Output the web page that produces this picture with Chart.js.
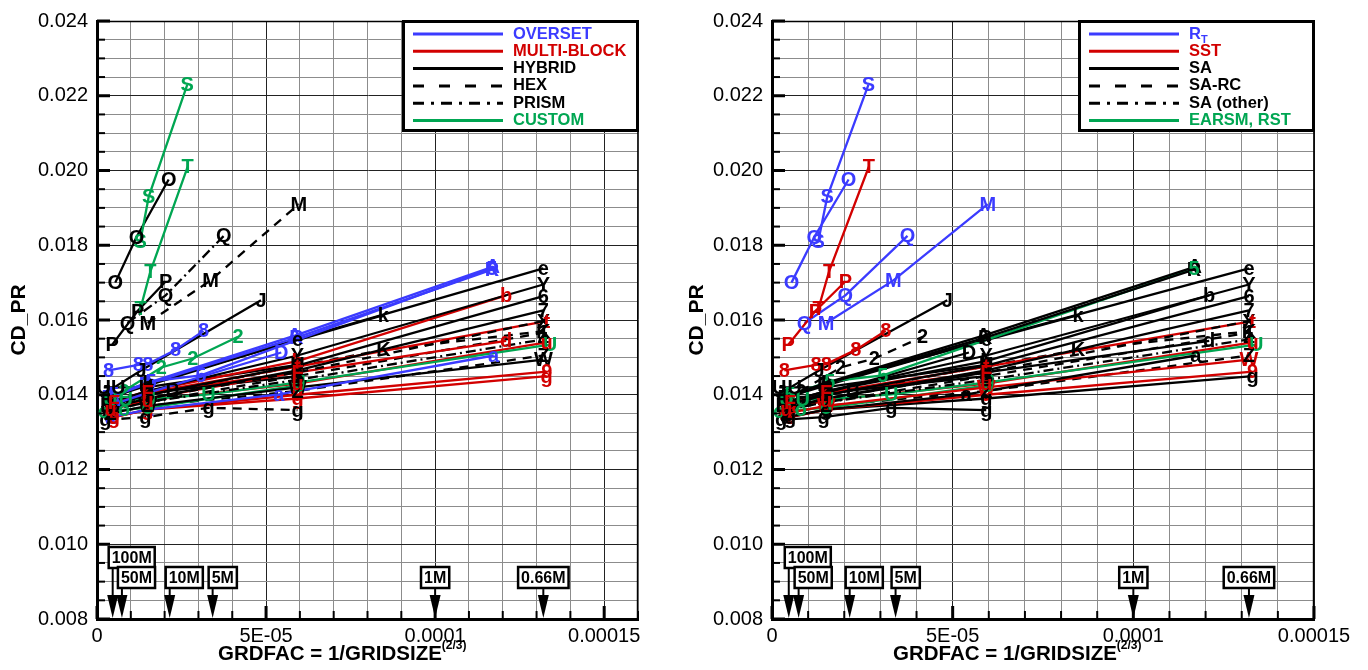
<!DOCTYPE html>
<html><head><meta charset="utf-8">
<script src="https://cdn.jsdelivr.net/npm/chart.js@4/dist/chart.umd.min.js"></script>
<style>
html,body{margin:0;padding:0;background:#fff;width:1368px;height:670px;overflow:hidden;font-family:"Liberation Sans",Arial,sans-serif;}
.wrap{position:absolute;top:0;width:684px;height:670px;}
.wrap canvas{position:absolute;left:0;top:0;}
.xt{position:absolute;font-weight:bold;font-size:20.5px;white-space:nowrap;top:641px;color:#000;}
.xt sup{font-size:12px;vertical-align:top;position:relative;top:-3px;}
</style></head>
<body>
<div class="wrap" style="left:0"><canvas id="c1" width="684" height="670"></canvas><div class="xt" style="left:218px">GRDFAC = 1/GRIDSIZE<sup>(2/3)</sup></div></div>
<div class="wrap" style="left:684px"><canvas id="c2" width="684" height="670"></canvas><div class="xt" style="left:209px">GRDFAC = 1/GRIDSIZE<sup>(2/3)</sup></div></div>
<script>
// ---------------- DATA ----------------
const GRID_TYPES = ['OVERSET','MULTI-BLOCK','HYBRID','HEX','PRISM','CUSTOM'];
const TURB_MODELS = ['R_T','SST','SA','SA-RC','SA (other)','EARSM, RST'];
const X_TICK_VALUES = [0, 5e-5, 1e-4, 1.5e-4];
const X_TICK_TEXT = ['0','5E-05','0.0001','0.00015'];
const GRID_SIZE_LABELS = ['100M','50M','10M','5M','1M','0.66M'];
const GRID_SIZE_X = [4.64e-6, 7.37e-6, 2.15e-5, 3.42e-5, 1.0e-4, 1.32e-4];

const SERIES_MARK = ['S','T','O','P','Q','M','8','2','J','R','A','5','D','a','e','Y','b','6','7','X','t','d','1','4','W','9','g','g','k','K','U','o','U','B','Z','u','F'];
const SERIES_GRID = ['CUSTOM','CUSTOM','HYBRID','HYBRID','PRISM','HEX','OVERSET','CUSTOM','HYBRID','OVERSET','OVERSET','OVERSET','OVERSET','OVERSET','HYBRID','HYBRID','MULTI-BLOCK','HYBRID','HYBRID','HEX','MULTI-BLOCK','MULTI-BLOCK','HEX','PRISM','HYBRID','MULTI-BLOCK','MULTI-BLOCK','HEX','HYBRID','HEX','CUSTOM','CUSTOM','HYBRID','HYBRID','HEX','MULTI-BLOCK','MULTI-BLOCK'];
const SERIES_MODEL = ['R_T','SST','R_T','SST','R_T','R_T','SST','SA-RC','SA','SA','SA','EARSM, RST','SA','SA','SA','SA','SA','SA','SA','SA-RC','SST','SA','SA-RC','SA (other)','SST','SST','SA','SA','SA','SA-RC','EARSM, RST','EARSM, RST','SA','SA','SA-RC','SST','SST'];
const SERIES_X = [
 [1.28e-5,1.53e-5,2.67e-5],
 [1.29e-5,1.58e-5,2.68e-5],
 [0.54e-5,1.17e-5,2.12e-5],
 [0.45e-5,1.2e-5,2.03e-5],
 [0.9e-5,2.03e-5,3.75e-5],
 [1.5e-5,3.36e-5,5.97e-5],
 [0.34e-5,1.22e-5,1.5e-5,2.32e-5,3.15e-5],
 [0.8e-5,1.9e-5,2.83e-5,4.17e-5],
 [0.25e-5,1.3e-5,4.85e-5],
 [0.35e-5,1.45e-5,5.9e-5,11.68e-5],
 [0.45e-5,1.5e-5,5.85e-5,11.7e-5],
 [0.5e-5,1.6e-5,3.07e-5,11.68e-5],
 [0.5e-5,1.5e-5,5.45e-5],
 [0.4e-5,1.5e-5,5.38e-5,11.73e-5],
 [0.3e-5,1.5e-5,5.93e-5,13.2e-5],
 [0.4e-5,1.5e-5,5.93e-5,13.2e-5],
 [0.4e-5,1.5e-5,5.93e-5,12.1e-5],
 [0.4e-5,1.5e-5,5.93e-5,13.2e-5],
 [0.4e-5,1.5e-5,5.93e-5,13.2e-5],
 [0.4e-5,1.5e-5,5.93e-5,13.2e-5],
 [0.5e-5,1.5e-5,5.93e-5,13.3e-5],
 [0.4e-5,1.5e-5,5.93e-5,12.1e-5],
 [0.4e-5,1.5e-5,5.93e-5,13.2e-5],
 [0.4e-5,1.5e-5,5.93e-5,13.2e-5],
 [0.4e-5,1.5e-5,5.93e-5,13.2e-5],
 [0.5e-5,1.5e-5,5.93e-5,13.3e-5],
 [0.5e-5,1.5e-5,5.93e-5,13.3e-5],
 [0.25e-5,1.43e-5,3.3e-5,5.93e-5],
 [0.4e-5,1.5e-5,8.47e-5],
 [0.4e-5,1.5e-5,8.47e-5,13.2e-5],
 [0.4e-5,0.85e-5,1.53e-5,3.3e-5,5.96e-5,13.4e-5],
 [0.2e-5,0.8e-5,1.5e-5,5.96e-5],
 [0.2e-5,0.63e-5,1.45e-5,5.93e-5],
 [0.3e-5,1.5e-5,2.24e-5,5.93e-5],
 [0.4e-5,1.5e-5,5.93e-5,13.2e-5],
 [0.4e-5,1.5e-5,5.93e-5,13.3e-5],
 [0.5e-5,1.5e-5,5.93e-5]
];
const SERIES_Y = [
 [0.0181,0.0193,0.0223],
 [0.01632,0.0173,0.0201],
 [0.0170,0.01822,0.01976],
 [0.01534,0.01624,0.01703],
 [0.01592,0.01666,0.01825],
 [0.01592,0.01706,0.0191],
 [0.01465,0.0148,0.01482,0.0152,0.01571],
 [0.0141,0.01473,0.01497,0.01555],
 [0.01405,0.01465,0.01653],
 [0.01392,0.01428,0.01553,0.01735],
 [0.01398,0.01432,0.01558,0.01742],
 [0.0140,0.01436,0.01452,0.01738],
 [0.01375,0.01405,0.01513],
 [0.0134,0.0136,0.01401,0.01505],
 [0.0139,0.01425,0.01548,0.01738],
 [0.0138,0.0141,0.01505,0.01695],
 [0.0138,0.0141,0.0149,0.01666],
 [0.0137,0.0140,0.01478,0.01664],
 [0.01365,0.0139,0.01465,0.01626],
 [0.0137,0.0139,0.0146,0.01597],
 [0.0138,0.01405,0.01475,0.01597],
 [0.0136,0.0139,0.0146,0.01544],
 [0.0136,0.0138,0.0145,0.01566],
 [0.0136,0.0138,0.0144,0.01548],
 [0.0135,0.0137,0.0142,0.01494],
 [0.0134,0.0136,0.0140,0.01462],
 [0.0134,0.0136,0.0139,0.0145],
 [0.01333,0.0134,0.01365,0.01359],
 [0.0139,0.0143,0.01613],
 [0.0137,0.0140,0.0152,0.0157],
 [0.01388,0.01388,0.01388,0.01401,0.01433,0.01534],
 [0.01355,0.0136,0.01365,0.01425],
 [0.0142,0.0142,0.0142,0.0148],
 [0.0137,0.0140,0.01412,0.0145],
 [0.0135,0.0137,0.0141,0.01505],
 [0.0136,0.01385,0.0143,0.0154],
 [0.0138,0.01405,0.0146]
];

// ---------------- STYLE ----------------
const BLUE='#3b3bff', RED='#d20000', BLACK='#000000', GREEN='#00a652';
const DASH=[9,7], DASHDOT=[10,4,2,4];
const GRID_STYLE = {'OVERSET':{c:BLUE,d:[]},'MULTI-BLOCK':{c:RED,d:[]},'HYBRID':{c:BLACK,d:[]},'HEX':{c:BLACK,d:DASH},'PRISM':{c:BLACK,d:DASHDOT},'CUSTOM':{c:GREEN,d:[]}};
const MODEL_STYLE = {'R_T':{c:BLUE,d:[]},'SST':{c:RED,d:[]},'SA':{c:BLACK,d:[]},'SA-RC':{c:BLACK,d:DASH},'SA (other)':{c:BLACK,d:DASHDOT},'EARSM, RST':{c:GREEN,d:[]}};
const ARROW_LEVEL = [1,0,0,0,0,0];
const ARROW_ALIGN = ['left','left','left','left','center','center'];
const FONT = '"Liberation Sans", Arial, sans-serif';

function isMult(v, step){ const r = v/step; return Math.abs(r-Math.round(r))<1e-6; }

function buildDatasets(catArr, styleMap){
  return SERIES_MARK.map((m,i)=>{
    const st = styleMap[catArr[i]];
    return {
      label: m,
      mark: m,
      data: SERIES_X[i].map((x,j)=>({x:x, y:SERIES_Y[i][j]})),
      borderColor: st.c, backgroundColor: st.c,
      borderDash: st.d, borderWidth: 2.3,
      pointRadius: 0, pointHoverRadius: 0,
      showLine: true, fill: false, tension: 0
    };
  });
}

const markerPlugin = {
  id:'markers',
  afterDatasetsDraw(chart){
    const ctx = chart.ctx;
    ctx.save();
    ctx.font = 'bold 20px '+FONT;
    ctx.textAlign='center'; ctx.textBaseline='middle';
    chart.data.datasets.forEach((ds,i)=>{
      const meta = chart.getDatasetMeta(i);
      ctx.fillStyle = ds.borderColor;
      meta.data.forEach(el=>{ ctx.fillText(ds.mark, el.x, el.y+1); });
    });
    ctx.restore();
  }
};

const decoPlugin = {
  id:'deco',
  afterDraw(chart, args, opts){
    const ctx = chart.ctx, a = chart.chartArea;
    const xs = chart.scales.x, ys = chart.scales.y;
    ctx.save();
    ctx.strokeStyle='#000'; ctx.lineWidth=1.5;
    ctx.beginPath(); ctx.moveTo(a.left,a.top+0.5); ctx.lineTo(a.right,a.top+0.5); ctx.lineTo(a.right-0.5,a.bottom); ctx.stroke();
    ys.ticks.forEach(t=>{
      const y = ys.getPixelForValue(t.value);
      const maj = isMult(t.value,0.002);
      ctx.lineWidth = maj?3:2;
      ctx.beginPath(); ctx.moveTo(a.left, y); ctx.lineTo(a.left+(maj?13:8), y); ctx.stroke();
    });
    xs.ticks.forEach(t=>{
      const x = xs.getPixelForValue(t.value);
      const maj = isMult(t.value,5e-5);
      ctx.lineWidth = maj?3:2;
      ctx.beginPath(); ctx.moveTo(x, a.bottom); ctx.lineTo(x, a.bottom-(maj?13:8)); ctx.stroke();
    });
    ctx.font = 'bold 16px '+FONT; ctx.textBaseline='middle'; ctx.textAlign='left';
    GRID_SIZE_LABELS.forEach((lab,i)=>{
      const x = xs.getPixelForValue(GRID_SIZE_X[i]);
      const boxH = 21;
      const top = a.bottom - (ARROW_LEVEL[i] ? 72 : 52);
      const w = ctx.measureText(lab).width + 6;
      const left = ARROW_ALIGN[i]==='left' ? x-4 : x - w/2;
      ctx.strokeStyle='#000'; ctx.fillStyle='#000'; ctx.lineWidth=2;
      ctx.beginPath(); ctx.moveTo(x, top+boxH); ctx.lineTo(x, a.bottom-20); ctx.stroke();
      ctx.beginPath(); ctx.moveTo(x-5.5, a.bottom-24); ctx.lineTo(x+5.5, a.bottom-24); ctx.lineTo(x, a.bottom-1); ctx.closePath(); ctx.fill();
      ctx.fillStyle='#fff'; ctx.fillRect(left, top, w, boxH);
      ctx.lineWidth=2.5; ctx.strokeRect(left, top, w, boxH);
      ctx.fillStyle='#000'; ctx.fillText(lab, left+3, top+boxH/2+1);
    });
    const cats = opts.cats, smap = opts.smap;
    const lw = 235, lh = 110;
    const lx = a.right - lw, ly = a.top;
    ctx.fillStyle='#fff'; ctx.fillRect(lx, ly, lw, lh);
    ctx.strokeStyle='#000'; ctx.lineWidth=3; ctx.strokeRect(lx+0.5, ly+0.5, lw-1, lh-1);
    cats.forEach((c,i)=>{
      const st = smap[c];
      const y = ly + 13 + i*17.3;
      ctx.strokeStyle = st.c; ctx.lineWidth=3; ctx.setLineDash(st.d.length? (st.d===DASH?[11,15]:[11,7,3,7]) : []);
      ctx.beginPath(); ctx.moveTo(lx+10, y); ctx.lineTo(lx+100, y); ctx.stroke();
      ctx.setLineDash([]);
      ctx.fillStyle = st.c; ctx.font = 'bold 16.5px '+FONT; ctx.textAlign='left'; ctx.textBaseline='middle';
      if (c==='R_T'){
        ctx.fillText('R', lx+110, y);
        const w = ctx.measureText('R').width;
        ctx.font = 'bold 11px '+FONT; ctx.fillText('T', lx+110+w, y+6);
      } else {
        ctx.fillText(c, lx+110, y);
      }
    });
    ctx.restore();
  }
};

function makeChart(id, catArr, smap, cats, yWidth, padRight, titlePad, xMax){
  return new Chart(document.getElementById(id), {
    type:'scatter',
    data:{datasets: buildDatasets(catArr, smap)},
    plugins:[markerPlugin, decoPlugin],
    options:{
      responsive:false, animation:false,
      layout:{padding:{top:15,right:padRight,bottom:0,left:0}},
      plugins:{legend:{display:false}, tooltip:{enabled:false}, deco:{cats:cats, smap:smap}},
      scales:{
        x:{type:'linear', min:0, max:xMax,
           afterFit(s){ s.height = 51; },
           ticks:{stepSize:1e-5, autoSkip:false, maxRotation:0, padding:5, color:'#000',
                  font:{family:FONT, size:20},
                  callback(v){ const k = X_TICK_VALUES.findIndex(t=>Math.abs(t-v)<1e-9); return k>=0 ? X_TICK_TEXT[k] : ''; }},
           grid:{drawTicks:false, lineWidth:1, color(c){ return isMult(c.tick.value,5e-5)?'#222':'#8c8c8c'; }},
           border:{display:true, color:'#000', width:3}},
        y:{type:'linear', min:0.008, max:0.024,
           afterFit(s){ s.width = yWidth; },
           ticks:{stepSize:0.0005, autoSkip:false, padding:9, color:'#000',
                  font:{family:FONT, size:20},
                  callback(v){ return isMult(v,0.002) ? v.toFixed(3) : ''; }},
           grid:{drawTicks:false, lineWidth:1, color(c){ return isMult(c.tick.value,0.002)?'#222':'#8c8c8c'; }},
           border:{display:true, color:'#000', width:3},
           title:{display:true, text:'CD_PR', color:'#000', font:{family:FONT, size:21, weight:'bold'}, padding:{top:titlePad,bottom:0}}}
      }
    }
  });
}
makeChart('c1', SERIES_GRID, GRID_STYLE, GRID_TYPES, 97, 46, 7, 0.00016);
makeChart('c2', SERIES_MODEL, MODEL_STYLE, TURB_MODELS, 88, 54, 1, 0.00015);
</script>
</body></html>
